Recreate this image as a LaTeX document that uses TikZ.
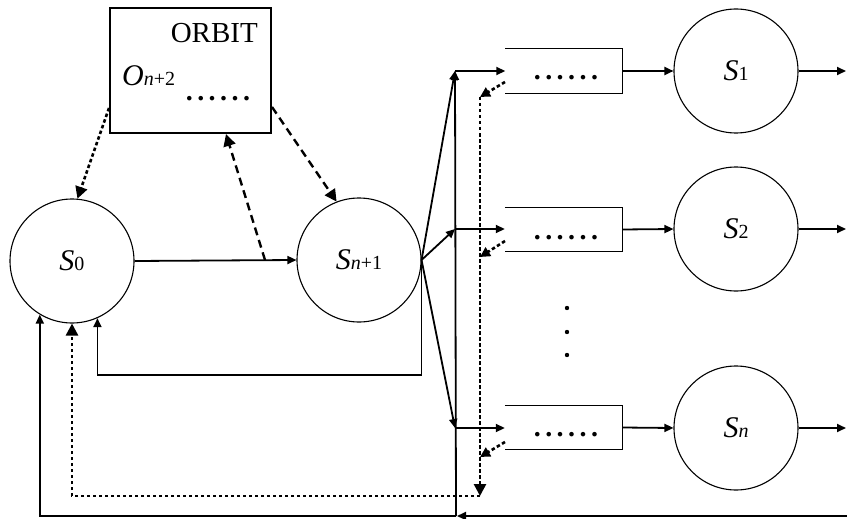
\documentclass[tikz,border=0pt]{standalone}
\usepackage{fontspec}
\setmainfont{Liberation Serif}
\usetikzlibrary{arrows.meta}
\newcommand{\mysub}[1]{{\fontsize{20}{24}\selectfont #1}}
\begin{document}
\begin{tikzpicture}[x=1pt,y=-1pt,
  state/.style={circle, draw, line width=1.1pt, minimum size=124pt, inner sep=0pt, font=\fontsize{30}{36}\selectfont},
  buf/.style={rectangle, minimum width=117pt, minimum height=44pt, inner sep=0pt},
  bufline/.style={line width=1.2pt},
  conn/.style={line width=1.8pt, -{Triangle[length=9pt,width=8pt]}},
  bigconn/.style={-{Triangle[length=12pt,width=12pt]}},
  longdash/.style={line width=2.4pt, dash pattern=on 8pt off 5pt},
  shortdash/.style={line width=2.6pt, dash pattern=on 3.5pt off 2.5pt},
  dotsfont/.style={font=\fontsize{28}{24}\selectfont\bfseries\addfontfeature{LetterSpace=16}},
  vdot/.style={circle, fill=black, inner sep=0pt, minimum size=4.4pt},
  textfont/.style={font=\fontsize{29}{34}\selectfont}
]
\useasboundingbox (0,0) rectangle (847,519);

% ORBIT box
\node[draw, line width=1.2pt, minimum width=161pt, minimum height=125pt, inner sep=0pt] (orbit) at (190.5,70.5) {};
\node[textfont, anchor=base east, inner sep=0pt] (orbitlbl) at (258,43) {ORBIT};
\node[font=\fontsize{30}{36}\selectfont, anchor=base west, inner sep=0pt] (olbl) at (122,85) {\textit{O}\mysub{\textit{n}+2}};
\node[dotsfont, anchor=base, inner sep=0pt] (odots) at (218,100) {......};

% states
\node[state] (s0) at (72,261) {\textit{S}\mysub{0}};
\node[state] (sn1) at (359,260) {\textit{S}\mysub{\textit{n}+1}};
\node[state] (s1) at (736,71) {\textit{S}\mysub{1}};
\node[state] (s2) at (736,229) {\textit{S}\mysub{2}};
\node[state] (sn) at (736,428) {\textit{S}\mysub{\textit{n}}};

% buffers (open on the left)
\node[buf] (b1) at (564,71) {};
\node[buf] (b2) at (563.5,229.5) {};
\node[buf] (bn) at (563.5,427.5) {};
\draw[bufline] (b1.north west) -- (b1.north east) -- (b1.south east) -- (b1.south west);
\draw[bufline] (b2.north west) -- (b2.north east) -- (b2.south east) -- (b2.south west);
\draw[bufline] (bn.north west) -- (bn.north east) -- (bn.south east) -- (bn.south west);
\node[dotsfont, anchor=base, inner sep=0pt] (d1) at (566,80) {......};
\node[dotsfont, anchor=base, inner sep=0pt] (d2) at (566,239) {......};
\node[dotsfont, anchor=base, inner sep=0pt] (dn) at (566,436) {......};
\node[vdot] (vd1) at (567,308) {};
\node[vdot] (vd2) at (567,332) {};
\node[vdot] (vd3) at (567,355) {};

% coordinates
\coordinate (mid) at (265,260);
\coordinate (ob) at (226,134);
\coordinate (oR) at (272,107);
\coordinate (oL) at (109,108);
\coordinate (j1) at (455,71);
\coordinate (j2) at (455,229);
\coordinate (j3) at (455,428);
\coordinate (jb) at (456,516);
\coordinate (re) at (847,516);
\coordinate (loopy) at (0,375);
\coordinate (o1) at (846,71);
\coordinate (o2) at (846,229);
\coordinate (on) at (846,428);
\coordinate (p1) at (505,82);
\coordinate (p2) at (505,241);
\coordinate (pn) at (505,442);
\coordinate (v1) at (480,97);
\coordinate (v2) at (480,257);
\coordinate (vn) at (480,457);
\coordinate (vb) at (480,496);

% main flow
\draw[conn] (s0.east) -- (sn1.west);
\draw[longdash, bigconn] (mid) -- (ob);
\draw[longdash, bigconn] (oR) -- (sn1.111);
\draw[shortdash, bigconn] (oL) -- (s0.85);

% fan out
\draw[conn] (sn1.east) -- (j1);
\draw[conn] (sn1.east) -- (j2);
\draw[conn] (sn1.east) -- (j3);
\draw[conn] (j1) -- (b1.west |- j1);
\draw[conn] (j2) -- (b2.west |- j2);
\draw[conn] (j3) -- (bn.west |- j3);
\draw[conn] (b1.east) -- (s1.west);
\draw[conn] (b2.east) -- (s2.west);
\draw[conn] (bn.east) -- (sn.west);
\draw[conn] (s1.east) -- (o1);
\draw[conn] (s2.east) -- (o2);
\draw[conn] (sn.east) -- (on);

% feedback loops
\draw[conn] (sn1.east) -- (sn1.east |- loopy) -| (s0.-66);
\draw[conn] (re) -- ([xshift=1pt]jb);
\draw[conn] (jb) -- (j1);
\draw[conn] (jb) -| (s0.-121);

% dotted returns
\draw[shortdash, -{Triangle[length=10pt,width=10pt]}] (p1) -- (v1);
\draw[shortdash, -{Triangle[length=10pt,width=10pt]}] (p2) -- (v2);
\draw[shortdash, -{Triangle[length=10pt,width=10pt]}] (pn) -- (vn);
\draw[shortdash, bigconn] (v1) -- (vb);
\draw[shortdash, bigconn] (vb) -| (s0.south);
\end{tikzpicture}
\end{document}
